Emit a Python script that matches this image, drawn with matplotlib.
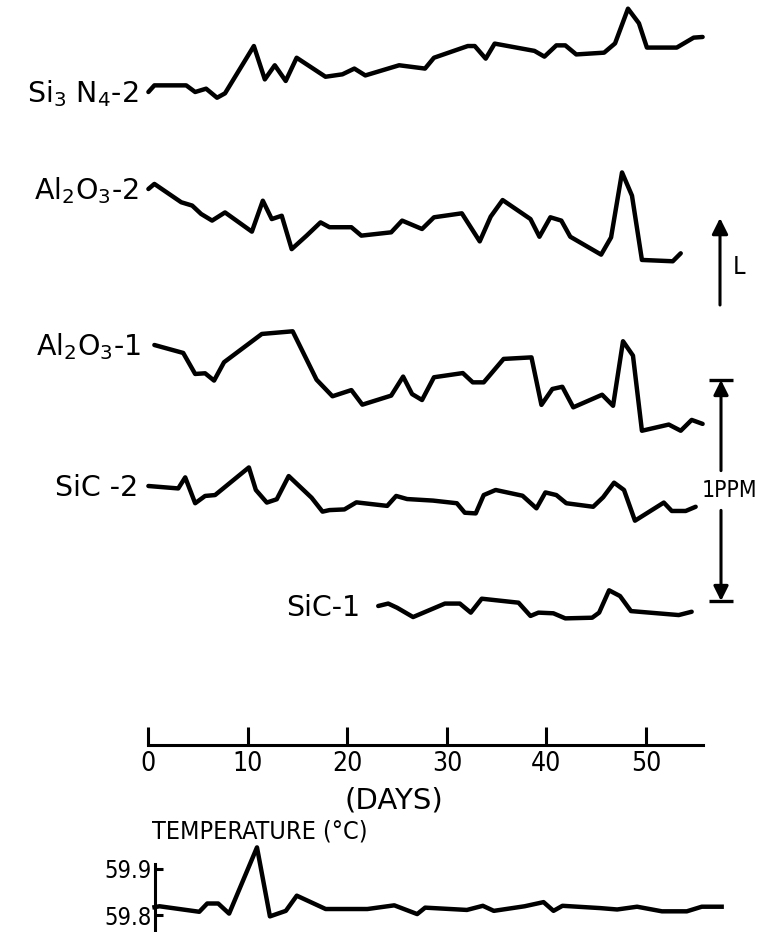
import matplotlib
matplotlib.use("Agg")
import matplotlib.pyplot as plt
from matplotlib.transforms import offset_copy

# ---- data (relative signal in ppm) ----
SI3N4_2_DAYS = [0.0, 0.6, 3.8, 4.7, 5.8, 6.9, 7.7, 10.6, 11.7, 12.7, 13.8, 14.9, 17.8, 19.5,
                20.7, 21.8, 25.2, 27.8, 28.7, 32.1, 32.8, 33.9, 34.8, 38.8, 39.8, 41.0, 41.9,
                43.0, 45.8, 46.9, 48.2, 49.3, 50.1, 53.1, 54.8, 55.7]
SI3N4_2_PPM = [0.0, 0.030, 0.030, 0.0, 0.015, -0.026, -0.006, 0.208, 0.057, 0.121, 0.050, 0.155,
               0.069, 0.080, 0.106, 0.075, 0.121, 0.106, 0.155, 0.208, 0.208, 0.151, 0.219,
               0.186, 0.160, 0.211, 0.211, 0.170, 0.178, 0.220, 0.377, 0.311, 0.201, 0.201,
               0.246, 0.249]

AL2O3_2_DAYS = [0.0, 0.6, 3.3, 4.4, 5.3, 6.4, 7.7, 10.4, 11.5, 12.4, 13.4, 14.4, 15.9, 17.3,
                18.2, 20.4, 21.4, 24.4, 25.5, 27.5, 28.7, 31.5, 33.3, 34.4, 35.6, 38.4, 39.3,
                40.4, 41.5, 42.4, 45.5, 46.5, 47.6, 48.6, 49.6, 52.7, 53.5]
AL2O3_2_PPM = [0.0, 0.023, -0.060, -0.075, -0.113, -0.143, -0.106, -0.193, -0.053, -0.136,
               -0.121, -0.272, -0.211, -0.151, -0.173, -0.173, -0.211, -0.196, -0.143, -0.181,
               -0.128, -0.110, -0.237, -0.125, -0.050, -0.136, -0.216, -0.128, -0.143, -0.216,
               -0.297, -0.219, 0.075, -0.030, -0.321, -0.327, -0.291]

AL2O3_1_DAYS = [0.6, 3.5, 4.7, 5.7, 6.6, 7.6, 11.4, 14.5, 16.9, 18.5, 20.4, 21.5, 24.4, 25.6,
                26.5, 27.5, 28.7, 31.6, 32.6, 33.7, 35.7, 38.5, 39.5, 40.6, 41.6, 42.7, 45.6,
                46.7, 47.7, 48.7, 49.6, 52.3, 53.5, 54.6, 55.7]
AL2O3_1_PPM = [0.0, -0.036, -0.131, -0.128, -0.161, -0.078, 0.050, 0.062, -0.157, -0.232,
               -0.204, -0.270, -0.229, -0.143, -0.222, -0.249, -0.146, -0.127, -0.169, -0.169,
               -0.063, -0.056, -0.271, -0.199, -0.189, -0.282, -0.225, -0.275, 0.017, -0.048,
               -0.388, -0.360, -0.388, -0.339, -0.357]

SIC_2_DAYS = [0.0, 3.0, 3.7, 4.7, 5.7, 6.7, 10.1, 10.8, 11.9, 12.9, 14.1, 16.4, 17.5, 18.2,
              19.7, 20.9, 24.0, 24.9, 26.0, 28.6, 31.0, 31.8, 32.9, 33.7, 34.9, 37.6, 39.0,
              39.9, 41.0, 42.0, 44.7, 45.7, 46.8, 47.8, 48.9, 51.8, 52.6, 54.0, 55.0]
SIC_2_PPM = [0.0, -0.011, 0.039, -0.078, -0.045, -0.041, 0.084, -0.018, -0.075, -0.060, 0.045,
             -0.053, -0.116, -0.109, -0.106, -0.074, -0.090, -0.045, -0.059, -0.066, -0.078,
             -0.121, -0.124, -0.041, -0.018, -0.044, -0.101, -0.029, -0.041, -0.078, -0.094,
             -0.051, 0.015, -0.018, -0.157, -0.075, -0.113, -0.113, -0.094]

SIC_1_DAYS = [23.1, 24.1, 25.0, 26.6, 29.8, 31.3, 32.4, 33.5, 37.2, 38.4, 39.2, 40.7, 41.9,
              44.6, 45.3, 46.3, 47.4, 48.5, 53.3, 54.6]
SIC_1_PPM = [0.0, 0.011, -0.008, -0.050, 0.011, 0.011, -0.030, 0.033, 0.015, -0.045, -0.030,
             -0.033, -0.056, -0.053, -0.030, 0.071, 0.045, -0.023, -0.041, -0.026]

TEMP_DAYS = [0.0, 0.5, 4.5, 5.3, 6.4, 7.5, 10.3, 11.6, 13.2, 14.3, 17.2, 21.4, 24.1, 26.4,
             27.2, 31.4, 33.0, 34.1, 37.2, 39.1, 40.1, 41.0, 44.8, 46.5, 48.5, 51.0, 53.5,
             55.0, 57.0]
TEMP_C = [59.817, 59.819, 59.807, 59.825, 59.825, 59.803, 59.947, 59.797, 59.809, 59.842,
          59.813, 59.813, 59.821, 59.802, 59.816, 59.811, 59.820, 59.809, 59.819, 59.828,
          59.809, 59.820, 59.815, 59.812, 59.818, 59.808, 59.808, 59.818, 59.818]

LABELS = [r"Si$_3$ N$_4$-2", r"Al$_2$O$_3$-2", r"Al$_2$O$_3$-1", "SiC -2", "SiC-1"]
DAY_TICKS = [0, 10, 20, 30, 40, 50]
TEMP_TICKS = [59.8, 59.9]

# ---- layout (pixels of the 761x932 page) ----
W, H, DPI = 761, 932, 100
DAY0_PX, PX_PER_DAY = 148.4, 9.95
TEMP_DAY0_PX = 154.5
PX_PER_PPM = 221.0
PX_PER_DEGC = 460.0
TEMP_BASE_PX = 915          # where 59.8 sits
TRACE_ROWS_PX = [92, 189, 345, 486, 606]      # vertical stacking of the traces
LABEL_GAP_DAYS = [0.95, 0.95, 1.3, 1.0, 1.8]

NARROW = dict(family="DejaVu Sans", fontstretch="condensed")
LW = 3.2


def level(px_from_top):
    return (H - px_from_top) / PX_PER_PPM


def main():
    fig = plt.figure(figsize=(W / DPI, H / DPI), dpi=DPI)
    xlim = (-DAY0_PX / PX_PER_DAY, (W - DAY0_PX) / PX_PER_DAY)

    ax = fig.add_axes([0, 0, 1, 1])
    ax.set_xlim(*xlim)
    ax.set_ylim(0, H / PX_PER_PPM)
    ax.axis("off")

    traces = [(SI3N4_2_DAYS, SI3N4_2_PPM), (AL2O3_2_DAYS, AL2O3_2_PPM),
              (AL2O3_1_DAYS, AL2O3_1_PPM), (SIC_2_DAYS, SIC_2_PPM), (SIC_1_DAYS, SIC_1_PPM)]
    lab_tf = offset_copy(ax.transData, fig=fig, y=-7.5, units="points")
    for (days, vals), lab, row, gap in zip(traces, LABELS, TRACE_ROWS_PX, LABEL_GAP_DAYS):
        off = level(row)
        ax.plot(days, [v + off for v in vals], color="black", lw=LW,
                solid_joinstyle="round", solid_capstyle="round")
        ax.text(days[0] - gap, off, lab, ha="right", va="baseline", fontsize=20.5,
                transform=lab_tf)

    # L arrow
    arrow_x = (720 - DAY0_PX) / PX_PER_DAY
    ax.annotate("", xy=(arrow_x, level(218)), xytext=(arrow_x, level(305)),
                arrowprops=dict(arrowstyle="-|>", color="black", lw=2.2,
                                mutation_scale=24, shrinkA=0, shrinkB=0))
    ax.text(arrow_x + 1.3, level(267), "L", fontsize=18, va="center", ha="left", **NARROW)

    # 1 ppm scale bar
    bar_x = (721 - DAY0_PX) / PX_PER_DAY
    top = level(380)
    bottom = top - 1.0
    mid = (top + bottom) / 2
    for start, end in [(mid + 0.09, top), (mid - 0.09, bottom)]:
        ax.annotate("", xy=(bar_x, end), xytext=(bar_x, start),
                    arrowprops=dict(arrowstyle="-|>", color="black", lw=2.2,
                                    mutation_scale=22, shrinkA=0, shrinkB=0))
    ax.plot([bar_x, bar_x], [bottom, top], ls="none", marker="_", ms=17, mew=2.4,
            color="black")
    ax.text((702 - DAY0_PX) / PX_PER_DAY, mid, "1PPM", fontsize=16.5, va="center",
            ha="left", **NARROW)

    # days axis
    axd = fig.add_axes([0, (H - 745) / H, 1, 20 / H])
    axd.patch.set_visible(False)
    axd.set_xlim(*xlim)
    axd.set_ylim(0, 1)
    for s in ["top", "left", "right"]:
        axd.spines[s].set_visible(False)
    axd.spines["bottom"].set_linewidth(2.2)
    axd.spines["bottom"].set_bounds(0, 55.7)
    axd.set_yticks([])
    axd.set_xticks(DAY_TICKS, [str(t) for t in DAY_TICKS])
    axd.tick_params(axis="x", direction="in", length=13, width=2.2, pad=4, labelsize=19)
    for t in axd.get_xticklabels():
        t.set_fontstretch("condensed")
    ax.text((394 - DAY0_PX) / PX_PER_DAY, level(800), "(DAYS)", fontsize=21,
            ha="center", va="center")

    # temperature panel
    axT = fig.add_axes([0, 0, 1, 112 / H])
    axT.patch.set_visible(False)
    axT.set_xlim(-TEMP_DAY0_PX / PX_PER_DAY, (W - TEMP_DAY0_PX) / PX_PER_DAY)
    axT.set_ylim(59.8 - (H - TEMP_BASE_PX) / PX_PER_DEGC,
                 59.8 + (112 - (H - TEMP_BASE_PX)) / PX_PER_DEGC)
    axT.plot(TEMP_DAYS, TEMP_C, color="black", lw=LW, solid_joinstyle="round",
             clip_on=False)
    for s in ["top", "bottom", "right"]:
        axT.spines[s].set_visible(False)
    axT.spines["left"].set_position(("data", 0))
    axT.spines["left"].set_linewidth(2.2)
    axT.spines["left"].set_bounds(59.8 - (H - TEMP_BASE_PX) / PX_PER_DEGC, 59.91)
    axT.set_xticks([])
    axT.set_yticks(TEMP_TICKS, [f"{t:.1f}" for t in TEMP_TICKS])
    axT.tick_params(axis="y", direction="in", length=6, width=2.2, pad=2, labelsize=17)
    for t in axT.get_yticklabels():
        t.set_fontstretch("condensed")
    ax.text((260 - DAY0_PX) / PX_PER_DAY, level(831), "TEMPERATURE (\u00b0C)", fontsize=18,
            ha="center", va="center", **NARROW)

    fig.savefig("out.png", dpi=DPI)
    plt.close(fig)


if __name__ == "__main__":
    main()
